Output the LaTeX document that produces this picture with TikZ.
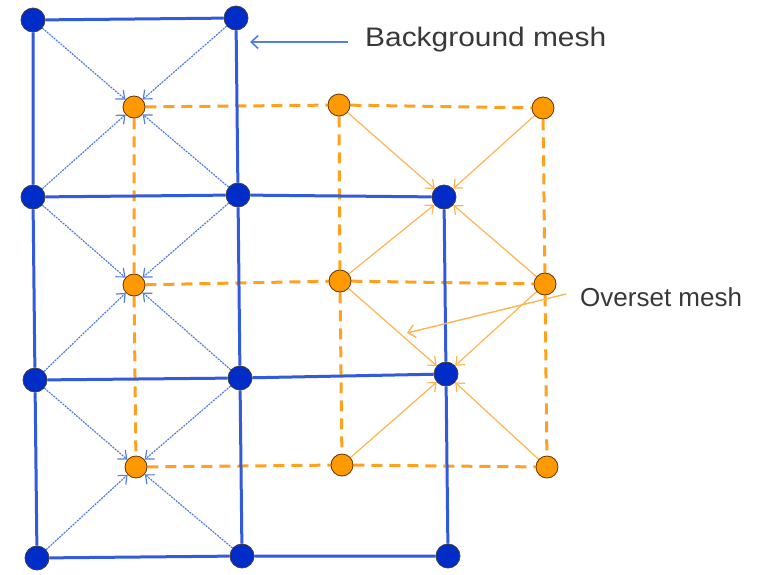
\documentclass[tikz,border=0pt]{standalone}
\usepackage{fontspec}
\setmainfont{Liberation Sans}
\usetikzlibrary{arrows.meta}
\definecolor{bnode}{RGB}{0,45,200}
\definecolor{bline}{RGB}{50,90,220}
\definecolor{barrow}{RGB}{85,125,230}
\definecolor{onode}{RGB}{255,153,0}
\definecolor{oline}{RGB}{255,160,30}
\definecolor{oarrow}{RGB}{255,180,80}
\pgfdeclarelayer{bgA}
\pgfdeclarelayer{bgB}
\pgfdeclarelayer{bgC}
\pgfsetlayers{bgA,bgB,bgC,main}
\begin{document}
\begin{tikzpicture}[x=1pt,y=-1pt,
 bn/.style={circle,fill=bnode,draw=black!75,line width=0.8pt,minimum size=24pt,inner sep=0},
 on/.style={circle,fill=onode,draw=black!60!orange,line width=0.8pt,minimum size=22pt,inner sep=0},
 bl/.style={bline,line width=3pt},
 ol/.style={oline,line width=3pt,dash pattern=on 11pt off 7pt},
 ba/.style={barrow,line width=1.2pt,dash pattern=on 2pt off 1pt,-{Straight Barb[length=7pt,width=12pt]}},
 oa/.style={oarrow,line width=1.2pt,-{Straight Barb[length=7pt,width=12pt]}},
 la/.style={line width=1.6pt,-{Straight Barb[length=7pt,width=13pt]}},
 lbl/.style={font=\fontsize{26}{30}\selectfont,text=black!78,anchor=west,inner sep=0}]
\useasboundingbox (0,0) rectangle (761,574);
% background mesh nodes
\node[bn] (b11) at (33,20) {};
\node[bn] (b12) at (236,18) {};
\node[bn] (b21) at (33,197) {};
\node[bn] (b22) at (238,195) {};
\node[bn] (b23) at (444,197) {};
\node[bn] (b31) at (35,380) {};
\node[bn] (b32) at (240,378) {};
\node[bn] (b33) at (446,374) {};
\node[bn] (b41) at (37,558) {};
\node[bn] (b42) at (242,556) {};
\node[bn] (b43) at (448,556) {};
% overset mesh nodes
\node[on] (o11) at (134,107) {};
\node[on] (o12) at (339,105) {};
\node[on] (o13) at (543,108) {};
\node[on] (o21) at (134,285) {};
\node[on] (o22) at (340,281) {};
\node[on] (o23) at (545,284) {};
\node[on] (o31) at (136,467) {};
\node[on] (o32) at (342,465) {};
\node[on] (o33) at (547,467) {};
% labels
\node[lbl] (bgt) at (365,40) {\scalebox{1.15}[1.03]{Background mesh}};
\node[lbl] (ovt) at (580,297) {Overset mesh};
\coordinate (bgs) at (348,42);
\coordinate (bge) at (250,42);
\coordinate (ovs) at (566,294);
\coordinate (ove) at (407,333);
\begin{pgfonlayer}{bgA}
\draw[ol] (o11) -- (o12) -- (o13);
\draw[ol] (o21) -- (o22) -- (o23);
\draw[ol] (o31) -- (o32) -- (o33);
\draw[ol] (o11) -- (o21) -- (o31);
\draw[ol] (o12) -- (o22) -- (o32);
\draw[ol] (o13) -- (o23) -- (o33);
\end{pgfonlayer}
\begin{pgfonlayer}{bgB}
\draw[bl] (b11) -- (b12);
\draw[bl] (b21) -- (b22) -- (b23);
\draw[bl] (b31) -- (b32) -- (b33);
\draw[bl] (b41) -- (b42) -- (b43);
\draw[bl] (b11) -- (b21) -- (b31) -- (b41);
\draw[bl] (b12) -- (b22) -- (b32) -- (b42);
\draw[bl] (b23) -- (b33) -- (b43);
\end{pgfonlayer}
\begin{pgfonlayer}{bgC}
\foreach \a/\b in {b11/o11,b12/o11,b21/o11,b22/o11,
                   b21/o21,b22/o21,b31/o21,b32/o21,
                   b31/o31,b32/o31,b41/o31,b42/o31}
  \draw[ba] (\a) -- (\b);
\foreach \a/\b in {o12/b23,o13/b23,o22/b23,o23/b23,
                   o22/b33,o23/b33,o32/b33,o33/b33}
  \draw[oa] (\a) -- (\b);
\draw[la,barrow] (bgs) -- (bge);
\draw[la,oarrow,line width=1.4pt] (ovs) -- (ove);
\end{pgfonlayer}
\end{tikzpicture}
\end{document}
